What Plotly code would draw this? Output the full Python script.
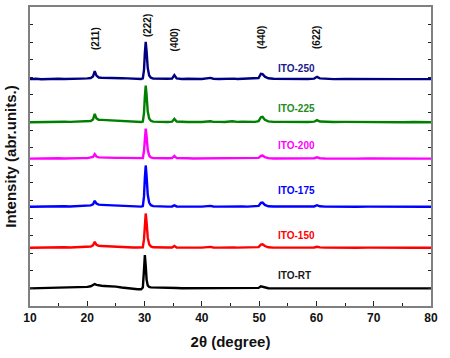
import plotly.graph_objects as go

# 2-theta grid (degrees)
two_theta = [10, 11, 12, 13, 14, 15, 16, 17, 18, 19, 20,
             20.6, 21.0, 21.3, 21.6, 22.0, 22.5,
             23, 24, 25, 26, 27, 28,
             28.8, 29.4, 29.7, 29.9, 30.05, 30.2, 30.35, 30.55, 30.8, 31.1, 31.5,
             32, 33, 34,
             34.8, 35.2, 35.6,
             36.5, 37.5, 38.5, 40,
             41.5, 42, 43, 44,
             45.3, 45.6, 46.2, 47, 48,
             49.3, 49.9, 50.3, 50.6, 51.0, 51.6, 52.5,
             54, 55.5, 57, 58.5,
             59.6, 60.1, 60.6, 61.5,
             63, 65, 67, 69, 71, 73, 75, 77, 79, 80]

ito_250 = [0.00, 0.02, -0.01, 0.01, 0.00, 0.02, 0.01, 0.03, 0.02, 0.03, 0.04,
           0.06, 0.15, 0.45, 0.20, 0.09, 0.08,
           0.07, 0.08, 0.06, 0.05, 0.04, 0.02,
           0.02, 0.01, 0.04, 0.53, 1.48, 2.12, 1.59, 0.64, 0.21, 0.08, 0.03,
           0.02, 0.01, 0.02,
           0.03, 0.23, 0.04,
           0.01, 0.02, 0.00, 0.01,
           0.07, 0.02, 0.01, 0.02,
           0.06, 0.03, 0.01, 0.02, 0.00,
           0.02, 0.06, 0.30, 0.28, 0.14, 0.05, 0.02,
           0.01, 0.02, 0.00, 0.01,
           0.03, 0.13, 0.04, 0.01,
           0.00, 0.01, 0.00, 0.01, 0.00, 0.01, 0.00, 0.00, 0.01, 0.00]

ito_225 = [0.00, 0.01, 0.02, 0.00, 0.02, 0.01, 0.03, 0.02, 0.03, 0.04, 0.05,
           0.07, 0.16, 0.47, 0.22, 0.14, 0.13,
           0.12, 0.11, 0.08, 0.06, 0.04, 0.02,
           0.02, 0.01, 0.04, 0.52, 1.46, 2.08, 1.56, 0.62, 0.21, 0.08, 0.03,
           0.02, 0.02, 0.01,
           0.03, 0.19, 0.04,
           0.02, 0.01, 0.02, 0.01,
           0.05, 0.02, 0.02, 0.01,
           0.05, 0.03, 0.02, 0.03, 0.01,
           0.02, 0.06, 0.28, 0.30, 0.14, 0.05, 0.02,
           0.02, 0.01, 0.02, 0.01,
           0.03, 0.12, 0.04, 0.02,
           0.01, 0.02, 0.01, 0.00, 0.01, 0.02, 0.00, 0.01, 0.01, 0.00]

ito_200 = [0.00, 0.01, 0.00, 0.02, 0.01, 0.02, 0.01, 0.03, 0.02, 0.03, 0.03,
           0.05, 0.10, 0.25, 0.12, 0.07, 0.06,
           0.06, 0.05, 0.04, 0.04, 0.03, 0.02,
           0.02, 0.01, 0.03, 0.43, 1.19, 1.70, 1.28, 0.51, 0.17, 0.07, 0.03,
           0.02, 0.01, 0.02,
           0.03, 0.15, 0.03,
           0.01, 0.02, 0.01, 0.01,
           0.04, 0.02, 0.01, 0.02,
           0.04, 0.02, 0.01, 0.02, 0.01,
           0.02, 0.04, 0.15, 0.17, 0.09, 0.03, 0.01,
           0.01, 0.02, 0.01, 0.01,
           0.02, 0.07, 0.02, 0.01,
           0.00, 0.01, 0.00, 0.01, 0.00, 0.01, 0.00, 0.01, 0.00, 0.00]

ito_175 = [0.00, 0.01, 0.02, 0.01, 0.02, 0.02, 0.03, 0.02, 0.04, 0.04, 0.05,
           0.08, 0.14, 0.34, 0.18, 0.12, 0.11,
           0.10, 0.09, 0.07, 0.05, 0.03, 0.02,
           0.02, 0.01, 0.04, 0.59, 1.65, 2.35, 1.76, 0.70, 0.24, 0.09, 0.04,
           0.03, 0.02, 0.01,
           0.02, 0.08, 0.02,
           0.01, 0.02, 0.01, 0.01,
           0.05, 0.02, 0.01, 0.02,
           0.04, 0.02, 0.01, 0.02, 0.01,
           0.02, 0.05, 0.22, 0.24, 0.11, 0.03, 0.02,
           0.02, 0.03, 0.01, 0.01,
           0.02, 0.09, 0.03, 0.01,
           0.00, 0.01, 0.00, 0.01, 0.00, 0.00, 0.01, 0.00, 0.00, 0.00]

ito_150 = [0.00, 0.01, 0.01, 0.02, 0.01, 0.02, 0.03, 0.02, 0.03, 0.04, 0.05,
           0.07, 0.14, 0.34, 0.17, 0.11, 0.10,
           0.09, 0.08, 0.06, 0.04, 0.03, 0.02,
           0.02, 0.01, 0.03, 0.49, 1.37, 1.95, 1.46, 0.59, 0.20, 0.08, 0.03,
           0.02, 0.01, 0.02,
           0.02, 0.10, 0.02,
           0.01, 0.01, 0.02, 0.01,
           0.05, 0.02, 0.01, 0.02,
           0.05, 0.02, 0.01, 0.02, 0.01,
           0.02, 0.04, 0.18, 0.20, 0.10, 0.03, 0.01,
           0.01, 0.02, 0.01, 0.01,
           0.02, 0.06, 0.02, 0.01,
           0.00, 0.01, 0.00, 0.01, 0.00, 0.01, 0.00, 0.00, 0.01, 0.00]

ito_rt = [0.00, 0.01, 0.00, 0.01, 0.02, 0.02, 0.03, 0.03, 0.04, 0.06, 0.09,
          0.12, 0.17, 0.25, 0.20, 0.16, 0.15,
          0.14, 0.13, 0.10, 0.05, 0.00, -0.03,
          -0.05, -0.05, 0.05, 1.05, 1.90, 1.30, 0.50, 0.17, 0.08, 0.06, 0.06,
          0.05, 0.04, 0.02,
          0.02, 0.04, 0.02,
          0.01, 0.01, 0.00, 0.01,
          0.03, 0.02, 0.01, 0.01,
          0.02, 0.02, 0.00, 0.01, 0.00,
          0.00, 0.03, 0.12, 0.10, 0.04, 0.01, 0.00,
          0.00, 0.01, 0.00, 0.00,
          0.01, 0.02, 0.01, 0.00,
          0.00, 0.00, 0.01, 0.00, 0.00, 0.01, 0.00, 0.00, 0.00, 0.00]

series_names = ["ITO-250", "ITO-225", "ITO-200", "ITO-175", "ITO-150", "ITO-RT"]
series_values = [ito_250, ito_225, ito_200, ito_175, ito_150, ito_rt]
series_offsets = [12.9, 10.45, 8.38, 5.64, 3.31, 1.0]
line_colors = ["#000080", "#008000", "#FF00FF", "#0000FF", "#FF0000", "#000000"]
label_colors = ["#1A1A8C", "#1E8C1E", "#FF00FF", "#0000FF", "#FF0000", "#1A1A1A"]
label_x = [56.6, 56.6, 56.6, 56.6, 56.6, 56.1]
label_y = [13.53, 11.24, 9.11, 6.54, 4.0, 1.72]

peak_labels = ["(211)", "(222)", "(400)", "(440)", "(622)"]
peak_label_x = [21.35, 30.42, 35.2, 50.5, 60.1]
peak_label_y = [15.18, 15.97, 15.12, 15.24, 15.24]

for v in series_values:
    assert len(v) == len(two_theta), len(v)

FONT = "Liberation Sans, Arial, sans-serif"

fig = go.Figure()
for name, vals, off, col in zip(series_names, series_values, series_offsets, line_colors):
    fig.add_trace(go.Scatter(
        x=two_theta, y=[v + off for v in vals], mode="lines", name=name,
        line=dict(color=col, width=2.4), showlegend=False, cliponaxis=True))

for name, x, y, col in zip(series_names, label_x, label_y, label_colors):
    fig.add_annotation(x=x, y=y, text="<b>%s</b>" % name, showarrow=False,
                       font=dict(family=FONT, size=10, color=col))

for t, x, y in zip(peak_labels, peak_label_x, peak_label_y):
    fig.add_annotation(x=x, y=y, text="<b>%s</b>" % t, showarrow=False, textangle=-90,
                       font=dict(family=FONT, size=10, color="#111111"))

fig.update_layout(
    width=450, height=358,
    margin=dict(l=30, r=19, t=7, b=52, autoexpand=False),
    paper_bgcolor="white", plot_bgcolor="white",
    font=dict(family=FONT, color="#111111"),
    xaxis=dict(
        range=[10, 80], tickmode="linear", tick0=10, dtick=10,
        ticks="inside", ticklen=5, tickwidth=1, tickcolor="#222222",
        minor=dict(ticks="inside", dtick=5, ticklen=3, tickwidth=1, tickcolor="#222222"),
        showline=True, linecolor="#808080", linewidth=2, mirror=True,
        showgrid=False, zeroline=False, automargin=False,
        tickfont=dict(family=FONT, size=12, color="#111111", weight="bold"),
        title=dict(text="<b>2θ (degree)</b>", font=dict(family=FONT, size=15, color="#111111"),
                   standoff=12),
    ),
    yaxis=dict(
        range=[0, 17], tickmode="array", tickvals=list(range(1, 17)),
        showticklabels=False,
        ticks="inside", ticklen=3, tickwidth=1, tickcolor="#222222",
        showline=True, linecolor="#808080", linewidth=2, mirror="ticks",
        showgrid=False, zeroline=False, automargin=False,
        title=dict(text="<b>Intensity (abr.units.)</b>", font=dict(family=FONT, size=15, color="#111111"),
                   standoff=8),
    ),
)

fig.write_html("out.html", config={"displayModeBar": False},
               post_script="document.body.style.margin='0';")
